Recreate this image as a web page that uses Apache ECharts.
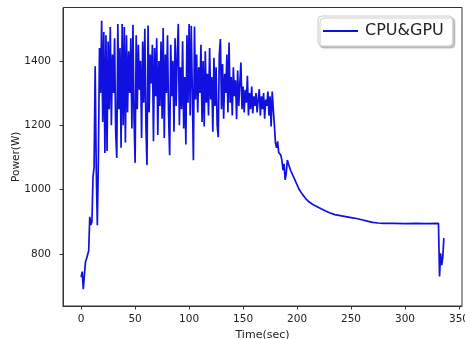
<!DOCTYPE html>
<html>
<head>
<meta charset="utf-8">
<script src="https://cdn.jsdelivr.net/npm/echarts@6/dist/echarts.min.js"></script>
<style>
  html, body { margin: 0; padding: 0; background: #fff; }
  #chart { width: 465px; height: 339px; }
</style>
</head>
<body>
<div id="chart"></div>
<script>
// Power draw of CPU & GPU over a run, sampled every second for the first 181 s
const sampleStart = 0;
const sampleStep = 1;
const powerRun = [
  728, 745, 690, 684, 775, 785, 790, 810, 915, 890,
  900, 1040, 1070, 1383, 1060, 889, 1100, 1440, 1300, 1525,
  1210, 1490, 1114, 1480, 1120, 1460, 1250, 1505, 1200, 1420,
  1300, 1470, 1180, 1098, 1515, 1250, 1440, 1130, 1515, 1200,
  1505, 1146, 1480, 1240, 1430, 1300, 1470, 1190, 1512, 1220,
  1083, 1480, 1250, 1450, 1310, 1400, 1160, 1460, 1270, 1500,
  1200, 1076, 1510, 1240, 1420, 1330, 1450, 1150, 1440, 1290,
  1470, 1170, 1400, 1260, 1460, 1220, 1502, 1160, 1420, 1300,
  1480, 1230, 1107, 1450, 1290, 1400, 1180, 1470, 1260, 1420,
  1515, 1200, 1380, 1250, 1461, 1190, 1350, 1140, 1480, 1270,
  1515, 1230, 1509, 1300, 1091, 1507, 1280, 1420, 1240, 1380,
  1300, 1450, 1210, 1400, 1196, 1430, 1270, 1360, 1230, 1440,
  1280, 1350, 1180, 1410, 1260, 1380, 1200, 1163, 1420, 1468,
  1250, 1390, 1220, 1360, 1300, 1420, 1240, 1457, 1270, 1350,
  1230, 1380, 1290, 1340, 1219, 1370, 1260, 1330, 1395, 1250,
  1320, 1240, 1310, 1270, 1354, 1230, 1300, 1250, 1320, 1237,
  1290, 1260, 1300, 1240, 1280, 1312, 1230, 1290, 1250, 1300,
  1220, 1280, 1260, 1305, 1230, 1290, 1196, 1305, 1250, 1200,
  1145
];

// Cool-down phase, logged at irregular times
const tailTime = [
  181, 182, 183, 184, 185, 186, 187, 188, 189, 190,
  191, 192, 193, 194, 196, 198, 200, 202, 205, 208,
  211, 215, 220, 225, 230, 235, 240, 245, 250, 255,
  260, 265, 270, 275, 280, 290, 300, 310, 320, 331,
  332, 333, 334, 335, 336
];
const tailPower = [
  1130, 1150, 1115, 1120, 1107, 1090, 1060, 1080, 1030, 1050,
  1092, 1080, 1070, 1060, 1045, 1030, 1015, 1000, 985, 972,
  962, 953, 944, 936, 928, 922, 919, 916, 913, 910,
  906, 902, 898, 896, 895, 895, 894, 895, 894, 895,
  730, 802, 765, 790, 849
];

const xTicks = [0, 50, 100, 150, 200, 250, 300, 350];
const yTicks = [800, 1000, 1200, 1400];
const seriesName = 'CPU&GPU';

const points = powerRun.map((v, i) => [sampleStart + i * sampleStep, v])
  .concat(tailTime.map((t, i) => [t, tailPower[i]]));

const chart = echarts.init(document.getElementById('chart'), null, { renderer: 'canvas' });
const font = 'DejaVu Sans';
const ink = '#333';

chart.setOption({
  animation: false,
  backgroundColor: '#fff',
  grid: {
    left: 63, top: 7.5, right: 3, bottom: 33,
    containLabel: false,
    outerBoundsMode: 'none',
    show: true, borderColor: ink, borderWidth: 1, backgroundColor: 'transparent'
  },
  legend: {
    data: [seriesName],
    left: 318, top: 16,
    icon: 'rect',
    itemWidth: 35, itemHeight: 2,
    itemGap: 10,
    padding: [7, 9, 7, 5],
    backgroundColor: '#fff',
    borderColor: '#ccc', borderWidth: 1, borderRadius: 4,
    shadowColor: 'rgba(0,0,0,0.22)', shadowBlur: 1, shadowOffsetX: 2, shadowOffsetY: 2,
    textStyle: { fontFamily: font, fontSize: 16, color: '#222', padding: [0, 0, 0, 2] }
  },
  xAxis: {
    type: 'value',
    min: -16.8, max: 352.8,
    name: 'Time(sec)', nameLocation: 'middle', nameGap: 24,
    nameMoveOverlap: false,
    nameTextStyle: { fontFamily: font, fontSize: 11, color: '#222' },
    axisLine: { show: true, onZero: false, lineStyle: { color: ink, width: 1 } },
    axisTick: { show: true, customValues: xTicks, length: 3.5, lineStyle: { color: ink } },
    axisLabel: {
      customValues: xTicks, fontFamily: font, fontSize: 10.5, color: '#222', margin: 8,
      formatter: v => String(v)
    },
    splitLine: { show: false }
  },
  yAxis: {
    type: 'value',
    min: 638, max: 1566,
    name: 'Power(W)', nameLocation: 'middle', nameGap: 41, nameRotate: 90,
    nameMoveOverlap: false,
    nameTextStyle: { fontFamily: font, fontSize: 10.5, color: '#222' },
    axisLine: { show: true, onZero: false, lineStyle: { color: ink, width: 1 } },
    axisTick: { show: true, customValues: yTicks, length: 3.5, lineStyle: { color: ink } },
    axisLabel: {
      customValues: yTicks, fontFamily: font, fontSize: 10.5, color: '#222', margin: 12,
      formatter: v => String(v)
    },
    splitLine: { show: false }
  },
  series: [{
    name: seriesName,
    type: 'line',
    data: points,
    showSymbol: false,
    symbol: 'none',
    color: '#1010e0',
    lineStyle: { width: 1.7, color: '#1010e0' },
    emphasis: { disabled: true }
  }]
});
</script>
</body>
</html>
